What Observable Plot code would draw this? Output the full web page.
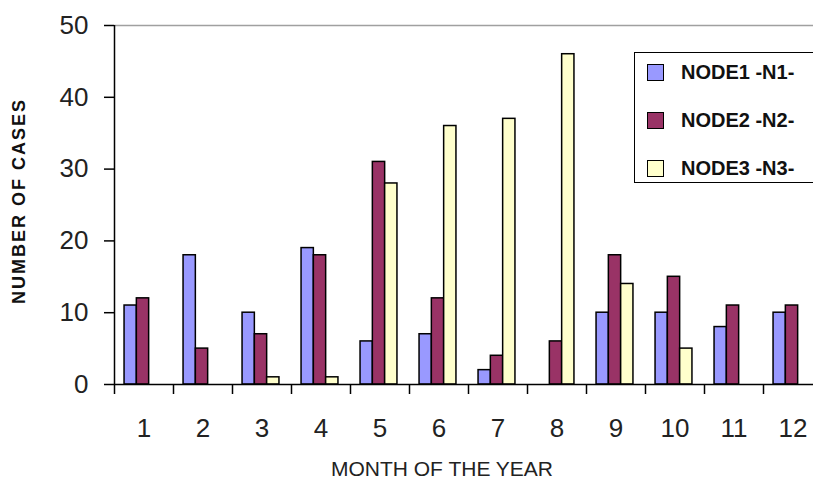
<!DOCTYPE html>
<html><head><meta charset="utf-8">
<script src="https://cdn.jsdelivr.net/npm/d3@7"></script>
<script src="https://cdn.jsdelivr.net/npm/@observablehq/plot@0.6"></script>
<style>
html,body{margin:0;padding:0;background:#fff;overflow:hidden;}
#wrap{position:relative;width:813px;height:484px;overflow:hidden;font-family:"Liberation Sans",Arial,sans-serif;}
#legend{position:absolute;left:634px;top:52px;width:210px;height:129px;border:1.5px solid #000;background:#fff;}
.item{position:absolute;left:12px;display:flex;align-items:center;height:20px;}
.sw{width:15px;height:15px;border:1.5px solid #000;}
.lab{font-weight:bold;font-size:20px;margin-left:17px;color:#111;white-space:nowrap;}
</style></head>
<body>
<div id="wrap"></div>
<script>
const months = [1,2,3,4,5,6,7,8,9,10,11,12];
const node1 = [11,18,10,19,6,7,2,0,10,10,8,10];
const node2 = [12,5,7,18,31,12,4,6,18,15,11,11];
const node3 = [0,0,1,1,28,36,37,46,14,5,0,0];
const seriesNames = ["NODE1 -N1-","NODE2 -N2-","NODE3 -N3-"];
const seriesColors = ["#9999ff","#993366","#ffffcc"];
const yTicks = [0,10,20,30,40,50];
const xTitle = "MONTH OF THE YEAR";
const yTitle = "NUMBER OF CASES";

const seriesValues = [node1, node2, node3];
const rows = [];
seriesNames.forEach((s, k) => months.forEach((m, i) => rows.push({month: m, series: s, value: seriesValues[k][i]})));

const step = 59, barW = 12.3, inset = (step - barW) / 2;
const barMark = (k) => Plot.barY(rows.filter(d => d.series === seriesNames[k] && d.value > 0), {
  x: "month", y: "value", fill: "series", stroke: "#000", strokeWidth: 1.5,
  insetLeft: inset, insetRight: inset, dx: (k - 1) * barW - 1
});

const chart = Plot.plot({
  width: 813, height: 484,
  marginTop: 25, marginBottom: 100, marginLeft: 114, marginRight: 0,
  style: {fontFamily: "'Liberation Sans', Arial, sans-serif", color: "#000", background: "#fff"},
  x: {type: "band", domain: months, padding: 0, range: [114, 822]},
  y: {domain: [0, 50]},
  color: {domain: seriesNames, range: seriesColors},
  marks: [
    Plot.ruleY([50], {stroke: "#a0a0a0", strokeWidth: 1.5}),
    barMark(0), barMark(1), barMark(2),
    Plot.ruleY([0], {stroke: "#000", strokeWidth: 1.5}),
    Plot.ruleX([1], {x: d => d, y1: 0, y2: 50, dx: -step / 2, stroke: "#000", strokeWidth: 1.5}),
    Plot.axisY({ticks: yTicks, tickSize: 10, tickPadding: 16, fontSize: 26, label: null, strokeWidth: 1.5, fill: "#222"}),
    Plot.axisX({tickSize: 10, tickFormat: () => "", dx: -step / 2, label: null, strokeWidth: 1.5}),
    Plot.axisX({tickSize: 0, tickPadding: 34, fontSize: 26, label: null, fill: "#222"}),
    Plot.text([yTitle], {frameAnchor: "left", textAnchor: "middle", lineAnchor: "middle", rotate: -90, dx: -95, dy: -4, fontSize: 18, fontWeight: "bold", fill: "#111"}),
    Plot.text([xTitle], {frameAnchor: "bottom", dx: -22, dy: 91, fontSize: 21, fill: "#222"})
  ]
});
const wrap = document.getElementById("wrap");
wrap.appendChild(chart);
d3.select(chart).selectAll("text").filter(function(){ return this.textContent === yTitle; }).style("letter-spacing", "2px");

const legend = document.createElement("div");
legend.id = "legend";
const itemTops = [9, 57, 105];
seriesNames.forEach((s, k) => {
  const it = document.createElement("div");
  it.className = "item";
  it.style.top = itemTops[k] + "px";
  const sw = document.createElement("div");
  sw.className = "sw"; sw.style.background = seriesColors[k];
  const lab = document.createElement("span");
  lab.className = "lab"; lab.textContent = s;
  it.appendChild(sw); it.appendChild(lab);
  legend.appendChild(it);
});
wrap.appendChild(legend);
</script>
</body></html>
